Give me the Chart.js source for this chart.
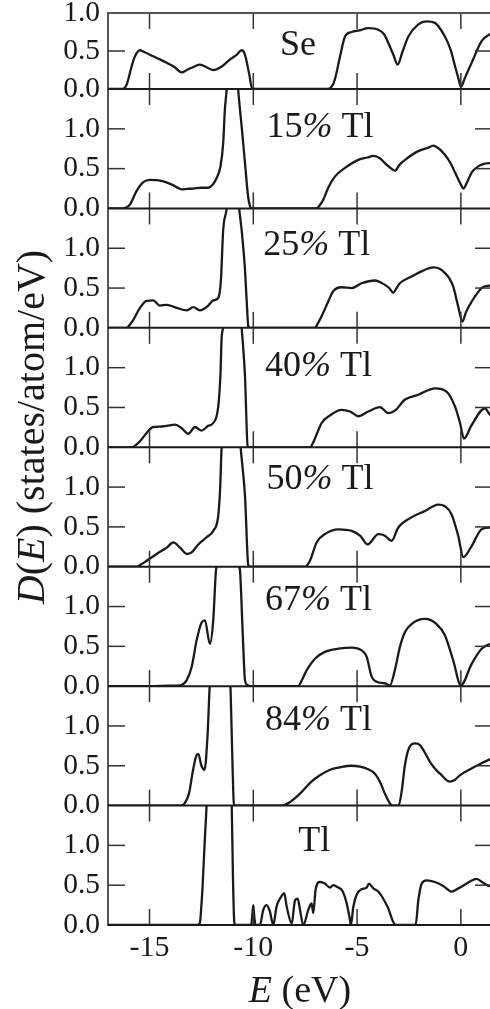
<!DOCTYPE html>
<html>
<head>
<meta charset="utf-8">
<script src="https://cdn.jsdelivr.net/npm/chart.js@4.4.1/dist/chart.umd.min.js"></script>
<style>
  html, body { margin: 0; padding: 0; background: #fff; overflow: hidden; }
  canvas { display: block; }
</style>
</head>
<body>
<canvas id="dos" width="494" height="1009"></canvas>
<script>
// energies (eV) and densities of states (states/atom/eV), one pair per panel
const eSe = [-17, -16.3, -16.1, -15.86, -15.7, -15.46, -15.2, -14.82, -14.5, -14.17, -13.8, -13.45, -13.2, -12.97, -12.57, -12.2, -11.93, -11.5, -11.12, -10.8, -10.56, -10.4, -10.2, -10.05, -6.4, -6.2, -6.07, -5.82, -5.58, -5.26, -4.9, -4.46, -3.98, -3.7, -3.5, -3.25, -3.05, -2.8, -2.53, -2.05, -1.65, -1.25, -0.77, -0.5, -0.28, -0.1, 0.0, 0.2, 0.52, 1.0, 1.4, 1.5];
const dSe = [0, 0, 0.06, 0.30, 0.43, 0.51, 0.48, 0.43, 0.39, 0.345, 0.29, 0.22, 0.25, 0.28, 0.32, 0.28, 0.25, 0.30, 0.39, 0.45, 0.51, 0.45, 0.2, 0, 0, 0.04, 0.125, 0.43, 0.69, 0.75, 0.77, 0.80, 0.78, 0.72, 0.61, 0.45, 0.32, 0.5, 0.69, 0.85, 0.89, 0.87, 0.69, 0.52, 0.30, 0.12, 0.03, 0.15, 0.345, 0.63, 0.72, 0.73];

const e15 = [-17, -16.3, -16.1, -15.94, -15.62, -15.3, -14.98, -14.66, -14.34, -13.85, -13.45, -13.2, -12.9, -12.5, -12.17, -11.95, -11.77, -11.58, -11.45, -11.37, -11.28, -11.1, -10.9, -10.73, -10.55, -10.4, -10.25, -10.16, -10.08, -6.95, -6.8, -6.63, -6.39, -6.07, -5.58, -4.94, -4.5, -4.22, -3.9, -3.66, -3.4, -3.18, -2.95, -2.69, -2.05, -1.6, -1.33, -1.05, -0.77, -0.5, -0.28, 0.0, 0.12, 0.3, 0.52, 1.0, 1.4, 1.5];
const d15 = [0, 0, 0.015, 0.05, 0.22, 0.33, 0.36, 0.355, 0.34, 0.29, 0.24, 0.245, 0.25, 0.26, 0.26, 0.30, 0.38, 0.53, 0.82, 1.24, 1.5, 2.2, 2.2, 1.5, 1.0, 0.57, 0.15, 0.03, 0, 0, 0.04, 0.11, 0.26, 0.40, 0.51, 0.61, 0.64, 0.66, 0.63, 0.57, 0.51, 0.475, 0.55, 0.61, 0.72, 0.76, 0.79, 0.75, 0.675, 0.57, 0.45, 0.30, 0.25, 0.33, 0.45, 0.55, 0.57, 0.57];

const e25 = [-17, -16.1, -15.95, -15.78, -15.46, -15.14, -14.82, -14.5, -14.17, -13.69, -13.2, -12.89, -12.57, -12.17, -11.93, -11.69, -11.56, -11.45, -11.28, -11.0, -10.85, -10.68, -10.55, -10.4, -10.3, -10.24, -10.15, -7.03, -6.9, -6.71, -6.39, -6.15, -5.75, -5.26, -4.78, -4.14, -3.66, -3.45, -3.26, -3.1, -2.94, -2.38, -1.9, -1.33, -1.0, -0.77, -0.55, -0.37, -0.13, 0.07, 0.25, 0.52, 1.0, 1.4, 1.5];
const d25 = [0, 0, 0.04, 0.10, 0.25, 0.34, 0.345, 0.28, 0.29, 0.25, 0.22, 0.26, 0.22, 0.28, 0.345, 0.375, 0.60, 1.23, 1.5, 2.3, 2.0, 1.5, 1.2, 0.73, 0.25, 0.02, 0, 0, 0.05, 0.145, 0.33, 0.46, 0.51, 0.50, 0.56, 0.595, 0.54, 0.50, 0.44, 0.50, 0.56, 0.645, 0.71, 0.76, 0.74, 0.69, 0.62, 0.52, 0.27, 0.08, 0.20, 0.33, 0.50, 0.53, 0.53];

const e40 = [-17, -15.86, -15.7, -15.46, -15.14, -14.82, -14.5, -14.17, -13.77, -13.45, -13.13, -12.81, -12.49, -12.17, -11.93, -11.69, -11.58, -11.53, -11.46, -11.1, -10.8, -10.56, -10.5, -10.4, -10.27, -10.2, -7.27, -7.1, -6.95, -6.71, -6.31, -5.75, -5.34, -4.94, -4.46, -3.9, -3.5, -3.18, -2.69, -2.05, -1.25, -0.69, -0.28, -0.04, 0.15, 0.52, 1.16, 1.4, 1.5];
const d40 = [0, 0, 0.02, 0.075, 0.18, 0.255, 0.26, 0.27, 0.285, 0.24, 0.17, 0.255, 0.21, 0.27, 0.305, 0.51, 0.93, 1.35, 1.5, 2.4, 2.2, 1.5, 1.3, 0.89, 0.01, 0, 0, 0.07, 0.16, 0.305, 0.40, 0.47, 0.45, 0.39, 0.45, 0.505, 0.43, 0.46, 0.60, 0.66, 0.74, 0.70, 0.51, 0.305, 0.11, 0.28, 0.49, 0.41, 0.40];

const e50 = [-17, -15.62, -15.4, -15.14, -14.66, -14.17, -13.85, -13.53, -13.2, -12.97, -12.65, -12.25, -11.93, -11.69, -11.6, -11.53, -11.2, -10.9, -10.6, -10.4, -10.24, -10.15, -7.51, -7.27, -6.95, -6.55, -5.9, -5.26, -4.86, -4.49, -3.98, -3.66, -3.34, -3.02, -2.38, -1.73, -1.09, -0.77, -0.45, -0.13, 0.12, 0.52, 1.0, 1.4, 1.5];
const d50 = [0, 0, 0.03, 0.075, 0.16, 0.24, 0.305, 0.24, 0.16, 0.18, 0.28, 0.37, 0.45, 0.64, 0.97, 1.47, 2.4, 2.4, 1.47, 0.89, 0.02, 0, 0, 0.075, 0.305, 0.41, 0.47, 0.45, 0.39, 0.28, 0.41, 0.39, 0.325, 0.49, 0.62, 0.70, 0.78, 0.76, 0.66, 0.39, 0.12, 0.26, 0.47, 0.49, 0.49];

const e67 = [-17, -15, -14, -13.53, -13.21, -12.97, -12.73, -12.49, -12.33, -12.09, -11.93, -11.8, -11.77, -11.4, -11.0, -10.68, -10.64, -10.5, -10.4, -10.27, -10.1, -7.84, -7.65, -7.43, -7.03, -6.55, -5.9, -5.26, -4.78, -4.54, -4.3, -4.06, -3.66, -3.42, -3.18, -2.94, -2.69, -2.38, -1.73, -1.17, -0.77, -0.37, 0.0, 0.52, 1.0, 1.4, 1.5];
const d67 = [0, 0, 0.005, 0.01, 0.075, 0.24, 0.575, 0.80, 0.825, 0.53, 0.825, 1.45, 1.5, 2.5, 2.5, 1.5, 1.45, 0.6, 0.075, 0.01, 0, 0, 0.08, 0.20, 0.345, 0.43, 0.47, 0.485, 0.45, 0.37, 0.12, 0.055, 0.035, 0.01, 0.20, 0.49, 0.68, 0.78, 0.845, 0.78, 0.64, 0.325, 0.01, 0.28, 0.47, 0.53, 0.54];

const e84 = [-17, -13.5, -13.3, -13.1, -12.9, -12.75, -12.65, -12.5, -12.35, -12.2, -12.1, -11.7, -11.3, -11.1, -11.0, -10.93, -8.6, -8.2, -7.75, -7.2, -6.79, -6.3, -5.82, -5.3, -4.86, -4.5, -4.14, -3.9, -3.66, -3.4, -3.3, -3.0, -2.84, -2.7, -2.5, -2.2, -1.97, -1.7, -1.49, -1.2, -1.0, -0.53, -0.3, -0.05, 0.4, 0.9, 1.4, 1.5];
const d84 = [0, 0, 0.03, 0.15, 0.45, 0.62, 0.65, 0.5, 0.45, 0.9, 1.5, 2.5, 2.5, 1.5, 0.5, 0, 0, 0.05, 0.15, 0.3, 0.38, 0.45, 0.48, 0.5, 0.49, 0.46, 0.40, 0.3, 0.15, 0.02, 0, 0, 0.2, 0.5, 0.72, 0.78, 0.76, 0.65, 0.55, 0.45, 0.40, 0.30, 0.32, 0.38, 0.45, 0.52, 0.58, 0.59];

const eTl = [-17, -12.7, -12.57, -12.5, -12.44, -12.35, -12.25, -12.0, -11.4, -11.04, -10.98, -10.92, -10.88, -10.1, -10.05, -10.0, -9.95, -9.89, -9.68, -9.52, -9.36, -9.2, -9.04, -8.88, -8.67, -8.51, -8.39, -8.15, -7.99, -7.86, -7.75, -7.59, -7.35, -7.19, -7.11, -7.0, -6.79, -6.55, -6.31, -6.15, -5.91, -5.71, -5.5, -5.34, -5.3, -5.18, -5.02, -4.78, -4.54, -4.43, -4.22, -3.98, -3.74, -3.5, -3.26, -3.14, -2.18, -2.05, -1.89, -1.65, -1.25, -0.85, -0.45, -0.12, 0.28, 0.76, 1.08, 1.4, 1.5];
const dTl = [0, 0, 0.03, 0.25, 0.5, 1.0, 1.5, 2.6, 2.6, 1.5, 0.6, 0.05, 0, 0, 0.12, 0.25, 0.1, 0, 0, 0.19, 0.25, 0.17, 0, 0.23, 0.35, 0.40, 0.23, 0.02, 0.31, 0.33, 0.19, 0, 0.19, 0.27, 0.15, 0.44, 0.54, 0.52, 0.47, 0.50, 0.47, 0.43, 0.27, 0.06, 0, 0.23, 0.38, 0.45, 0.47, 0.52, 0.46, 0.42, 0.33, 0.21, 0.04, 0, 0, 0.31, 0.52, 0.56, 0.54, 0.49, 0.42, 0.46, 0.52, 0.58, 0.53, 0.49, 0.49];

const panelLabels = ['Se', '15% Tl', '25% Tl', '40% Tl', '50% Tl', '67% Tl', '84% Tl', 'Tl'];
const panelEnergies = [eSe, e15, e25, e40, e50, e67, e84, eTl];
const panelDos = [dSe, d15, d25, d40, d50, d67, d84, dTl];
const panelMax = [1.0, 1.5, 1.5, 1.5, 1.5, 1.5, 1.5, 1.5];
const xTickValues = [-15, -10, -5, 0];
const yTickValues = [0, 0.5, 1.0];

// layout: where each panel label sits, in (eV, DOS) of its own panel
const labelAt = [[-8.71, 0.45], [-9.36, 0.90], [-9.52, 0.92], [-9.44, 0.90], [-9.36, 0.97], [-9.44, 0.96], [-9.44, 0.95], [-7.83, 0.93]];
const panelHeights = [76, 119.4, 119.4, 119.4, 119.4, 119.4, 119.4, 119.4];

const SERIF = '"Liberation Serif", "Times New Roman", serif';
const INK = '#1a1a1a';

function yId(i) { return 'y' + i; }

// draw a string piece by piece, switching to italic where asked
function drawRich(ctx, parts, x, y, size) {
  let cx = x;
  parts.forEach(p => {
    ctx.font = (p.it ? 'italic ' : '') + size + 'px ' + SERIF;
    ctx.fillText(p.t, cx, y);
    cx += ctx.measureText(p.t).width;
  });
}
function richWidth(ctx, parts, size) {
  let w = 0;
  parts.forEach(p => {
    ctx.font = (p.it ? 'italic ' : '') + size + 'px ' + SERIF;
    w += ctx.measureText(p.t).width;
  });
  return w;
}
function labelParts(s) {
  const out = [];
  s.split('%').forEach((t, k, arr) => {
    if (t) out.push({t: t, it: false});
    if (k < arr.length - 1) out.push({t: '%', it: true});
  });
  return out;
}

// clip each curve to its own panel
const panelClip = {
  id: 'panelClip',
  beforeDatasetDraw(chart, args) {
    const s = chart.scales[args.meta.yAxisID];
    const a = chart.chartArea;
    chart.ctx.save();
    chart.ctx.beginPath();
    chart.ctx.rect(a.left, s.top, a.right - a.left, s.bottom - s.top + 1);
    chart.ctx.clip();
  },
  afterDatasetDraw(chart) {
    chart.ctx.restore();
  }
};

function seg(ctx, x1, y1, x2, y2) {
  ctx.beginPath();
  ctx.moveTo(x1, y1);
  ctx.lineTo(x2, y2);
  ctx.stroke();
}

const decor = {
  id: 'decor',
  afterDraw(chart) {
    const ctx = chart.ctx;
    const a = chart.chartArea;
    const xs = chart.scales.x;
    ctx.save();
    panelLabels.forEach((lab, i) => {
      const s = chart.scales[yId(i)];
      const y0 = s.getPixelForValue(0);
      // inward tick marks
      ctx.strokeStyle = '#333';
      ctx.lineWidth = 1.5;
      xTickValues.forEach(v => {
        const px = xs.getPixelForValue(v);
        seg(ctx, px, s.top, px, s.top + 16);
        seg(ctx, px, y0, px, y0 - 16);
      });
      [0.5, 1.0].forEach(v => {
        const py = s.getPixelForValue(v);
        seg(ctx, a.left, py, a.left + 17, py);
        seg(ctx, a.right - 17, py, a.right, py);
      });
      // panel baseline
      ctx.strokeStyle = INK;
      ctx.lineWidth = 2;
      seg(ctx, a.left, y0, a.right, y0);
      // panel label
      ctx.fillStyle = INK;
      ctx.textBaseline = 'alphabetic';
      ctx.textAlign = 'left';
      drawRich(ctx, labelParts(lab), xs.getPixelForValue(labelAt[i][0]), s.getPixelForValue(labelAt[i][1]), 36);
    });
    // top frame
    ctx.strokeStyle = '#555';
    ctx.lineWidth = 2;
    seg(ctx, a.left, a.top, a.right, a.top);

    // axis titles
    ctx.fillStyle = INK;
    const xt = [{t: 'E', it: true}, {t: ' (eV)', it: false}];
    const xw = richWidth(ctx, xt, 38);
    drawRich(ctx, xt, (a.left + a.right) / 2 - xw / 2, 1002, 38);

    const yt = [{t: 'D', it: true}, {t: '(', it: false}, {t: 'E', it: true}, {t: ') (states/atom/eV)', it: false}];
    const yw = richWidth(ctx, yt, 40);
    ctx.translate(44, 427);
    ctx.rotate(-Math.PI / 2);
    drawRich(ctx, yt, -yw / 2, 0, 40);
    ctx.restore();
  }
};

const scales = {
  x: {
    type: 'linear',
    min: -17,
    max: 1.5,
    border: {display: true, color: INK, width: 2},
    grid: {display: true, drawOnChartArea: false, drawTicks: false},
    afterBuildTicks: s => { s.ticks = xTickValues.map(v => ({value: v})); },
    afterFit: s => { s.height = 84; s.paddingLeft = 0; s.paddingRight = 0; },
    ticks: {
      padding: 5,
      color: INK,
      font: {family: SERIF, size: 30},
      callback: v => String(v)
    }
  }
};

const datasets = [];
panelLabels.forEach((lab, i) => {
  scales[yId(i)] = {
    type: 'linear',
    position: 'left',
    stack: 'panels',
    stackWeight: panelHeights[i],
    weight: 10 - i,
    min: 0,
    max: panelMax[i],
    border: {display: true, color: '#555', width: 2},
    grid: {display: true, drawOnChartArea: false, drawTicks: false},
    afterBuildTicks: s => { s.ticks = yTickValues.map(v => ({value: v})); },
    afterFit: s => { s.width = 108; s.paddingTop = 0; s.paddingBottom = 0; },
    ticks: {
      padding: 8,
      color: INK,
      autoSkip: false,
      font: {family: SERIF, size: 29.5},
      callback: v => v.toFixed(1)
    }
  };
  datasets.push({
    label: lab,
    yAxisID: yId(i),
    data: panelEnergies[i].map((e, k) => ({x: e, y: panelDos[i][k]})),
    borderColor: INK,
    borderWidth: 2.3,
    pointRadius: 0,
    fill: false,
    cubicInterpolationMode: 'monotone'
  });
});

new Chart(document.getElementById('dos'), {
  type: 'line',
  data: {datasets: datasets},
  options: {
    responsive: false,
    animation: false,
    layout: {padding: {top: 13, right: 2, left: 0, bottom: 0}},
    plugins: {legend: {display: false}, tooltip: {enabled: false}, title: {display: false}},
    scales: scales
  },
  plugins: [panelClip, decor]
});
</script>
</body>
</html>
